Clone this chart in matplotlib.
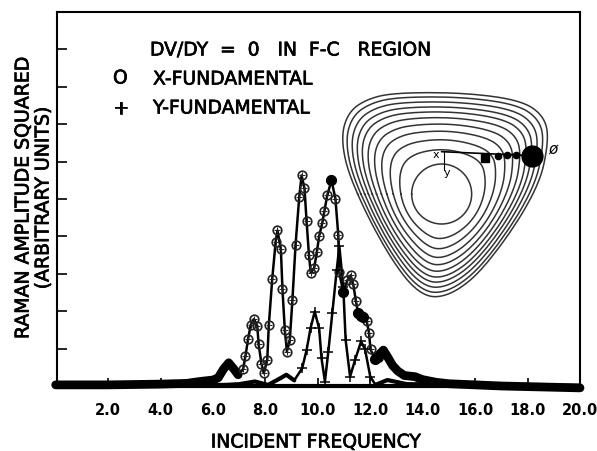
import matplotlib
matplotlib.use("Agg")
import matplotlib.pyplot as plt
import matplotlib.patheffects as pe
import numpy as np

W, H = 597, 451

x_fund_freq = [0.0, 2.0, 4.0, 5.0, 5.5, 6.0, 6.2, 6.4, 6.6, 6.8, 6.96, 7.15, 7.24, 7.34, 7.44, 7.56, 7.69, 7.74,
               7.85, 7.94, 8.07, 8.13, 8.26, 8.39, 8.46, 8.59, 8.65, 8.74, 8.82, 8.93, 9.03, 9.15, 9.29, 9.38,
               9.49, 9.57, 9.66, 9.73, 9.86, 9.96, 10.05, 10.17, 10.25, 10.36, 10.52, 10.67, 10.78, 10.81, 10.97,
               11.13, 11.25, 11.35, 11.45, 11.54, 11.73, 11.86, 11.95, 12.01, 12.18, 12.35, 12.5, 12.65, 12.85,
               13.05, 13.3, 13.7, 14.0, 14.5, 15.0, 17.0, 20.0]
x_fund_amp = [0.03, 0.03, 0.05, 0.07, 0.12, 0.16, 0.22, 0.45, 0.62, 0.45, 0.3, 0.45, 0.81, 1.26, 1.63, 1.79, 1.61, 1.12,
              0.59, 0.34, 0.7, 1.63, 2.86, 3.85, 4.16, 3.65, 2.59, 1.5, 0.92, 1.23, 2.3, 3.78, 5.05, 5.63,
              5.29, 4.41, 3.51, 3.03, 3.16, 3.57, 4.01, 4.36, 4.68, 5.1, 5.5, 5.01, 4.03, 3.05, 2.52,
              2.83, 2.96, 2.72, 2.28, 1.94, 1.85, 1.75, 1.43, 0.98, 0.7, 0.85, 0.96, 0.79, 0.55,
              0.4, 0.28, 0.25, 0.17, 0.1, 0.06, 0.0, -0.05]

y_fund_freq = [0.0, 5.0, 6.5, 7.0, 7.6, 8.1, 8.5, 8.8, 9.1, 9.4, 9.57, 9.72, 9.88, 10.05, 10.14, 10.27, 10.4, 10.55,
               10.72, 10.82, 10.97, 11.06, 11.23, 11.42, 11.65, 11.8, 12.0, 12.2, 12.65, 13.4, 20.0]
y_fund_amp = [0.02, 0.02, 0.03, 0.05, 0.12, 0.03, 0.18, 0.3, 0.15, 0.47, 0.96, 1.54, 1.99, 1.54, 0.74, 0.12, 0.92, 1.94,
              3.1, 3.74, 2.65, 1.23, 0.25, 0.7, 1.19, 0.98, 0.25, 0.03, 0.16, 0.05, 0.0]

# places where the open circles run together into solid blobs
blob_freq = [10.52, 10.97, 11.54, 11.65, 11.73, 12.18, 12.3]
blob_amp = [5.5, 2.52, 1.94, 1.88, 1.85, 0.72, 0.78]

x_ticks = [2, 4, 6, 8, 10, 12, 14, 16, 18, 20]
x_tick_labels = ["2.0", "4.0", "6.0", "8.0", "10.0", "12.0", "14.0", "16.0", "18.0", "20.0"]
y_ticks = [1, 2, 3, 4, 5, 6, 7, 8, 9]

# inset drawing, polygon around the outermost contour
outer_x = [200, 400, 570, 640, 658, 625, 470, 360, 270, 170, 60, 32, 55, 115]
outer_y = [68, 68, 90, 135, 205, 360, 590, 680, 680, 550, 330, 205, 125, 85]
contour_steps = [0, 0.2, 0.34, 0.46, 0.56, 0.65, 0.73, 0.8, 0.87, 0.94, 1]
path_x = [557, 530, 503]
path_y = [255, 255, 257]


def round_corners(px, py, passes=4):
    pts = np.column_stack([px, py]).astype(float)
    for _ in range(passes):
        nxt = np.roll(pts, -1, axis=0)
        pts = np.column_stack([0.75 * pts + 0.25 * nxt, 0.25 * pts + 0.75 * nxt]).reshape(-1, 2)
    return pts


fig = plt.figure(figsize=(W / 100, H / 100), dpi=100)
plt.rcParams["font.family"] = "DejaVu Sans"

# inset
inset = fig.add_axes([330 / W, 1 - 310 / H, 240 / W, 240 / H])
inset.set_xlim(0, 720)
inset.set_ylim(720, 0)
inset.axis("off")
cx, cy = 335, 372
pts = round_corners(outer_x, outer_y)
ang = np.arctan2(pts[:, 1] - cy, pts[:, 0] - cx)
rad = np.hypot(pts[:, 0] - cx, pts[:, 1] - cy)
order = np.argsort(ang)
theta = np.linspace(-np.pi, np.pi, 600)
r_out = np.interp(theta, ang[order], rad[order], period=2 * np.pi)
for s in contour_steps:
    r = 90 + s * (r_out - 90)
    inset.plot(cx + r * np.cos(theta), cy + r * np.sin(theta), color="#333333", lw=1.1)
inset.plot([335, 607], [245, 257], color="black", lw=1.2)
inset.plot([343, 343], [245, 300], color="black", lw=0.8)
inset.plot(path_x, path_y, "o", color="black", ms=4.5)
inset.plot([465], [265], "s", color="black", ms=6)
inset.plot([607], [257], "o", color="black", ms=15)
inset.text(318, 255, "x", fontsize=8, ha="center", va="center")
inset.text(350, 310, "y", fontsize=8, ha="center", va="center")
inset.text(668, 238, "ø", fontsize=11, ha="center", va="center", style="italic")

ax = fig.add_axes([57 / W, 1 - 386 / H, 523 / W, 374 / H])
ax.patch.set_alpha(0)
ax.set_xlim(0.05, 20)
ax.set_ylim(0, 10)

ax.plot(x_fund_freq, x_fund_amp, color="black", lw=1.8, clip_on=False, zorder=3)
ax.plot(y_fund_freq, y_fund_amp, color="black", lw=1.8, clip_on=False, zorder=3)
# the curves pile up into a solid band where points are very close
xf, xa = np.array(x_fund_freq), np.array(x_fund_amp)
low = (xf <= 6.96) | (xf >= 12.18)
for part in (xf <= 6.96, xf >= 12.18):
    ax.plot(xf[part], xa[part], color="black", lw=6.3, solid_capstyle="round", clip_on=False, zorder=3)
yf, ya = np.array(y_fund_freq), np.array(y_fund_amp)
for part in (yf <= 9.1, yf >= 12.2):
    ax.plot(yf[part], ya[part], color="black", lw=3.0, solid_capstyle="round", clip_on=False, zorder=3)
ax.plot(xf[~low], xa[~low], "o", mfc="none", mec="#222222", mew=1.2, ms=6.2, zorder=4)
ax.plot(xf[~low], xa[~low], "+", color="#222222", mew=0.7, ms=4.5, zorder=4)
mid = (yf > 9.1) & (yf < 12.2)
ax.plot(yf[mid], ya[mid], "+", color="black", mew=1.1, ms=6.5, zorder=4)
ax.plot(blob_freq, blob_amp, "o", color="black", ms=7, zorder=5)

ax.set_xticks(x_ticks)
ax.set_xticklabels(x_tick_labels, fontsize=10.5, fontweight="bold")
ax.set_yticks(y_ticks)
ax.set_yticklabels([])
ax.tick_params(axis="both", direction="in", length=7.5, width=1.2, pad=12)
ax.tick_params(axis="x", length=6)
for s in ax.spines.values():
    s.set_linewidth(1.5)
ax.spines["bottom"].set_linewidth(3)

heavy = [pe.withStroke(linewidth=0.5, foreground="black")]
txt = dict(fontsize=13.5, ha="left", va="center", path_effects=heavy)
fig.text(150 / W, 1 - 50 / H, "DV/DY  =  0   IN  F-C   REGION", **txt)
fig.text(113 / W, 1 - 78 / H, "O", **txt)
fig.text(153 / W, 1 - 79 / H, "X-FUNDAMENTAL", **txt)
fig.text(113 / W, 1 - 108 / H, "+", **txt)
fig.text(153 / W, 1 - 108 / H, "Y-FUNDAMENTAL", **txt)
fig.text(316 / W, 1 - 442 / H, "INCIDENT FREQUENCY", fontsize=13.5, ha="center", va="center", path_effects=heavy)
fig.text(23 / W, 1 - 198 / H, "RAMAN AMPLITUDE SQUARED", rotation=90, fontsize=13.6, ha="center", va="center", path_effects=heavy)
fig.text(43 / W, 1 - 198 / H, "(ARBITRARY UNITS)", rotation=90, fontsize=13.6, ha="center", va="center", path_effects=heavy)

fig.savefig("out.png", dpi=100)
